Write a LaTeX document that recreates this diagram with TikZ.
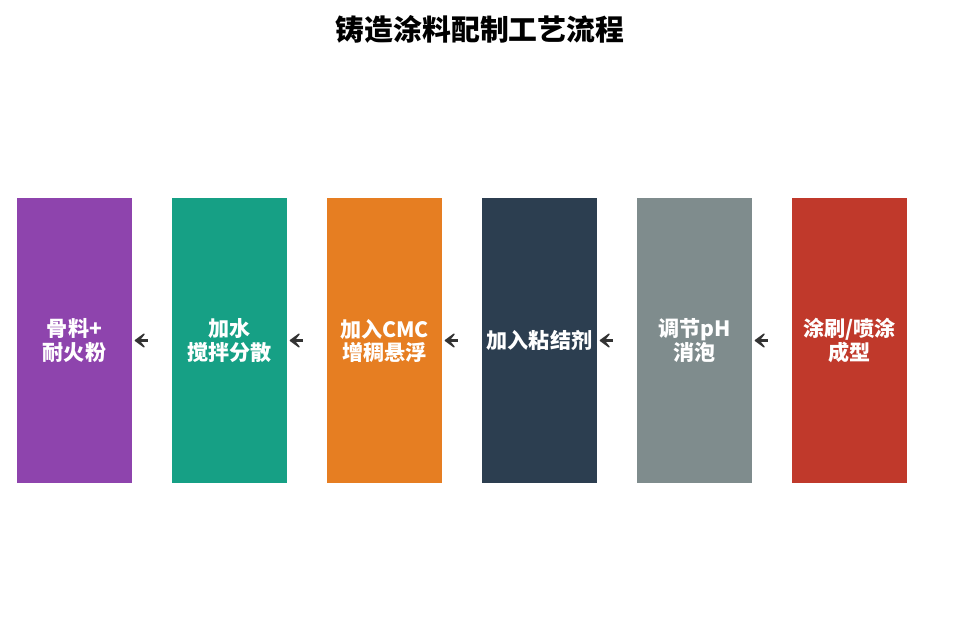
\documentclass[tikz,border=0pt]{standalone}
\usepackage{fontspec}
\newfontfamily\cjk{Noto Sans CJK SC}
\usetikzlibrary{arrows.meta,positioning}
\definecolor{cpurple}{HTML}{8E44AD}
\definecolor{cteal}{HTML}{16A085}
\definecolor{corange}{HTML}{E67E22}
\definecolor{cnavy}{HTML}{2C3E50}
\definecolor{cgray}{HTML}{7F8C8D}
\definecolor{cred}{HTML}{C0392B}
\definecolor{carrow}{HTML}{333333}
\tikzset{
	stagebox/.style = {minimum width = 2.875cm, minimum height = 7.125cm, inner sep = 0pt, align = center, text = white, font = \cjk\bfseries\fontsize{15}{16.4}\selectfont},
	flow/.style = {-{Stealth[length=0.34cm, width=0.5cm, inset=0.2cm, round]}, line width = 2.6pt, carrow, shorten < = 0.6cm, shorten > = 0.06cm}
}
\begin{document}
\begin{tikzpicture}[x=0.025cm, y=-0.025cm]
	\useasboundingbox (0,0) rectangle (960,644);
	\node [font = \cjk\bfseries\fontsize{20.5}{24}\selectfont] (title) at (480,29) {铸造涂料配制工艺流程};

	\node [stagebox, fill = cpurple] (s1) at (74.5,340.5) {骨料+\\耐火粉};
	\node [stagebox, fill = cteal] (s2) at (229.5,340.5) {加水\\搅拌分散};
	\node [stagebox, fill = corange] (s3) at (384.5,340.5) {加入CMC\\增稠悬浮};
	\node [stagebox, fill = cnavy] (s4) at (539.5,340.5) {加入粘结剂};
	\node [stagebox, fill = cgray] (s5) at (694.5,340.5) {调节pH\\消泡};
	\node [stagebox, fill = cred] (s6) at (849.5,340.5) {涂刷/喷涂\\成型};

	\draw [flow] (s2) -- (s1);
	\draw [flow] (s3) -- (s2);
	\draw [flow] (s4) -- (s3);
	\draw [flow] (s5) -- (s4);
	\draw [flow] (s6) -- (s5);
\end{tikzpicture}
\end{document}
